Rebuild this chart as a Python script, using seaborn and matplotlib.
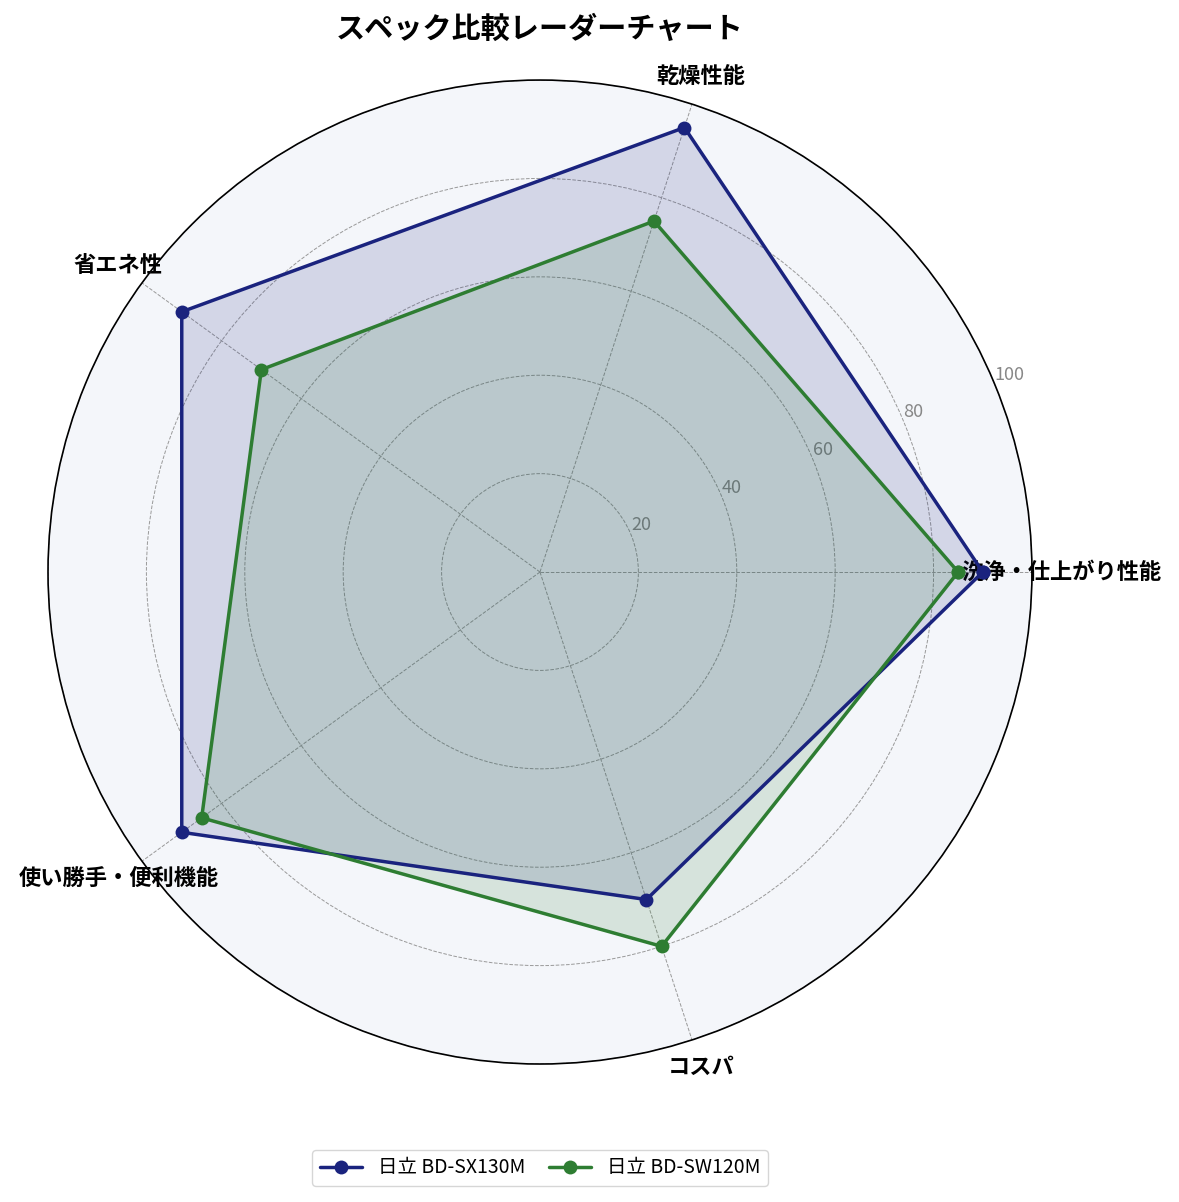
import numpy as np
import pandas as pd
import seaborn as sns
import matplotlib
matplotlib.use('Agg')
import matplotlib.pyplot as plt

categories = ['洗浄・仕上がり性能', '乾燥性能', '省エネ性', '使い勝手・便利機能', 'コスパ']
sx130m = [90, 95, 90, 90, 70]
sw120m = [85, 75, 70, 85, 80]
series_names = ['日立 BD-SX130M', '日立 BD-SW120M']
colors = ['#1a237e', '#2e7d32']
r_ticks = [20, 40, 60, 80, 100]

sns.set_theme(style='white')
plt.rcParams['font.family'] = ['Noto Sans CJK JP', 'DejaVu Sans']
plt.rcParams['text.color'] = 'black'

angles = np.linspace(0, 2 * np.pi, len(categories), endpoint=False)

fig = plt.figure(figsize=(11.79, 12.02), dpi=100)
ax = fig.add_axes([0.0407, 0.1148, 0.8346, 0.8186], polar=True)
ax.set_facecolor('#f4f6fa')

for name, vals, c in zip(series_names, [sx130m, sw120m], colors):
    # close the polygon by repeating the first point at 2*pi
    df = pd.DataFrame({'theta': list(angles) + [2 * np.pi],
                       'r': list(vals) + [vals[0]]})
    sns.lineplot(data=df, x='theta', y='r', sort=False, estimator=None,
                 ax=ax, color=c, linewidth=2.5, marker='o', markersize=10,
                 markeredgewidth=0, label=name)
    ax.fill(df['theta'], df['r'], color=c, alpha=0.15)

ax.set_xticks(angles)
ax.set_xticklabels(categories, fontsize=16, fontweight='bold', color='black')
ax.tick_params(axis='x', pad=8)
ax.set_ylim(0, 100)
ax.set_yticks(r_ticks)
ax.set_yticklabels([str(t) for t in r_ticks], fontsize=13, color='#888888')
ax.set_rlabel_position(22.5)
ax.set_xlabel('')
ax.set_ylabel('')
ax.grid(True, color='#999999', linestyle='--', linewidth=0.7)
ax.spines['polar'].set_color('black')
ax.spines['polar'].set_linewidth(1.2)

ax.legend_.remove()
handles, labels = ax.get_legend_handles_labels()
fig.legend(handles, labels, loc='center', bbox_to_anchor=(0.458, 0.0283),
           ncol=2, fontsize=14, frameon=True, edgecolor='#cccccc',
           handlelength=2.2, columnspacing=1.2, labelcolor='black')

fig.text(0.458, 0.976, 'スペック比較レーダーチャート', ha='center', va='center',
         fontsize=21, fontweight='bold', color='black')

fig.savefig('out.png', dpi=100, facecolor='white')
